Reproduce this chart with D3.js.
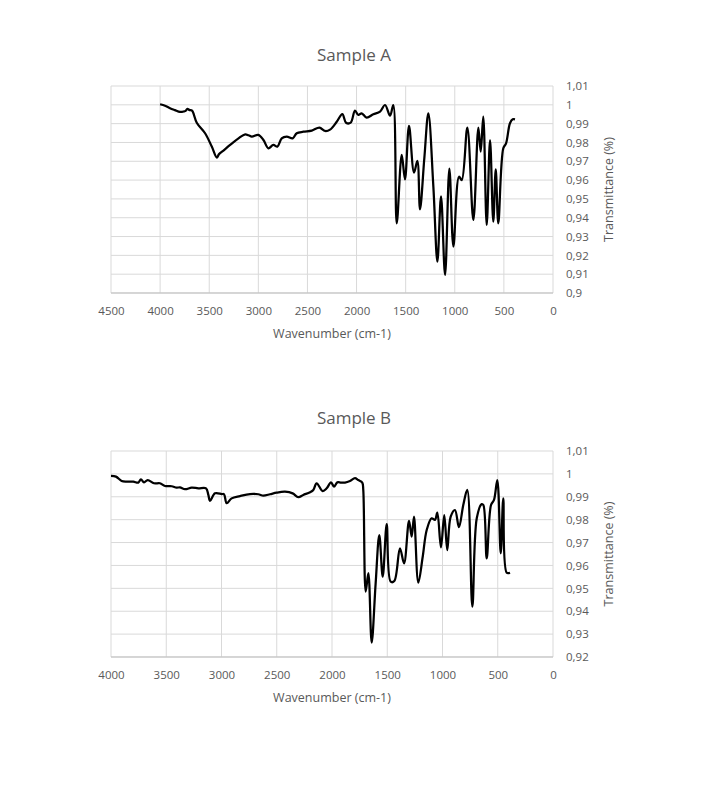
<!DOCTYPE html>
<html><head><meta charset="utf-8">
<script src="https://cdn.jsdelivr.net/npm/d3@7"></script>
<style>body{margin:0;background:#fff}svg{display:block}text{font-family:"Open Sans",sans-serif;fill:#595959}</style>
</head><body><svg id="c" width="720" height="786"></svg>
<script>
const titles = ["Sample A", "Sample B"];
const xTitle = "Wavenumber (cm-1)";
const yTitle = "Transmittance (%)";

const xTicksA = [4500,4000,3500,3000,2500,2000,1500,1000,500,0];
const yTicksA = [0.9,0.91,0.92,0.93,0.94,0.95,0.96,0.97,0.98,0.99,1,1.01];
const xTicksB = [4000,3500,3000,2500,2000,1500,1000,500,0];
const yTicksB = [0.92,0.93,0.94,0.95,0.96,0.97,0.98,0.99,1,1.01];

const wnA = [4000,3950,3899,3850,3797,3756,3740,3722,3700,3675,3627,3542,3474,3423,3400,3355,3287,3202,3134,3100,3066,3000,2948,2898,2847,2806,2762,2711,2650,2609,2541,2456,2378,2321,2270,2202,2145,2107,2060,2016,1982,1948,1897,1829,1761,1710,1659,1626,1591,1540,1507,1466,1415,1381,1354,1310,1269,1218,1177,1140,1099,1055,1014,957,929,872,811,760,736,710,675,641,608,583,557,506,478,438,410,387];
const tA = [1.0003,0.9995,0.9982,0.9972,0.9962,0.9965,0.9968,0.9978,0.9972,0.9969,0.9905,0.9849,0.9778,0.972,0.9738,0.9757,0.9787,0.9822,0.9843,0.9838,0.9831,0.984,0.9813,0.9769,0.9787,0.9778,0.9822,0.9831,0.9822,0.9849,0.9857,0.9863,0.9879,0.9861,0.9868,0.991,0.9951,0.9905,0.9905,0.9969,0.9946,0.9955,0.9932,0.995,0.9964,0.9999,0.9942,0.9999,0.937,0.9734,0.9604,0.9888,0.964,0.9702,0.9445,0.9716,0.9955,0.9565,0.9167,0.9514,0.9096,0.9661,0.9247,0.9618,0.96,0.9879,0.9388,0.9879,0.9751,0.9937,0.9362,0.9813,0.9379,0.9657,0.937,0.9769,0.9795,0.9902,0.9923,0.9923];

const wnB = [4000,3955,3904,3858,3798,3753,3729,3701,3668,3611,3557,3511,3451,3406,3376,3330,3270,3210,3140,3119,3104,3059,2998,2977,2953,2908,2833,2742,2667,2622,2561,2501,2425,2356,2305,2260,2199,2169,2139,2084,2048,2009,1982,1952,1918,1882,1837,1792,1762,1726,1717,1695,1671,1641,1605,1572,1541,1505,1469,1436,1385,1348,1303,1279,1258,1219,1179,1143,1098,1068,1047,1014,984,957,926,887,851,812,776,730,690,645,630,600,561,534,504,473,450,419,389];
const tB = [0.9991,0.9988,0.9969,0.9966,0.9966,0.9962,0.9976,0.9963,0.9973,0.9959,0.9959,0.9947,0.9946,0.994,0.9941,0.9933,0.994,0.9937,0.9937,0.9908,0.9882,0.9915,0.9912,0.9911,0.9872,0.9893,0.9903,0.9912,0.9911,0.9905,0.9911,0.9918,0.9922,0.9915,0.9898,0.9908,0.992,0.993,0.9959,0.9925,0.9937,0.9963,0.9944,0.9963,0.9962,0.9962,0.9969,0.9981,0.9973,0.9962,0.993,0.9486,0.9566,0.9263,0.9522,0.9733,0.9551,0.9781,0.9529,0.9532,0.9675,0.9609,0.9795,0.9726,0.9813,0.9525,0.9638,0.9755,0.9806,0.9799,0.9831,0.9679,0.982,0.9667,0.9813,0.9842,0.9767,0.9864,0.993,0.942,0.9806,0.9868,0.9864,0.9631,0.9864,0.9886,0.9973,0.9653,0.9893,0.9568,0.9568];

const svg = d3.select("#c");
const fmtY = v => d3.format(".2~f")(v).replace(".", ",");
const fmtX = d3.format("d");

function chart(cfg) {
  const {left,right,top,bottom,xMax,yMin,yMax,xTicks,yTicks,wn,t,title,titleY} = cfg;
  const x = d3.scaleLinear().domain([xMax,0]).range([left,right]);
  const y = d3.scaleLinear().domain([yMin,yMax]).range([bottom,top]);
  const g = svg.append("g");
  g.append("g").selectAll("line").data(yTicks).join("line")
    .attr("x1",left).attr("x2",right).attr("y1",d=>y(d)).attr("y2",d=>y(d))
    .attr("stroke","#d9d9d9").attr("stroke-width",1);
  g.append("g").selectAll("line").data(xTicks).join("line")
    .attr("y1",top).attr("y2",bottom).attr("x1",d=>x(d)).attr("x2",d=>x(d))
    .attr("stroke","#d9d9d9").attr("stroke-width",1);
  g.append("line").attr("x1",left).attr("x2",right).attr("y1",bottom).attr("y2",bottom)
    .attr("stroke","#bfbfbf").attr("stroke-width",1);
  const xa = d3.axisBottom(x).tickValues(xTicks).tickSize(0).tickPadding(0).tickFormat(fmtX);
  const xg = g.append("g").attr("transform",`translate(0,${bottom})`).call(xa);
  xg.select(".domain").remove();
  xg.selectAll("text").attr("dy",null).attr("y",22).style("font-size","11.5px").style("fill","#595959");
  const ya = d3.axisRight(y).tickValues(yTicks).tickSize(0).tickPadding(0).tickFormat(fmtY);
  const yg = g.append("g").attr("transform",`translate(${right+13},0)`).call(ya);
  yg.select(".domain").remove();
  yg.selectAll("text").style("font-size","11.5px").style("fill","#595959");
  g.append("text").attr("x",(left+right)/2 + 22).attr("y",titleY).attr("text-anchor","middle")
    .style("font-size","17px").text(title);
  g.append("text").attr("x",(left+right)/2).attr("y",bottom+45).attr("text-anchor","middle")
    .style("font-size","12.5px").text(xTitle);
  g.append("text").attr("transform",`translate(${right+60},${(top+bottom)/2}) rotate(-90)`)
    .attr("text-anchor","middle").style("font-size","12.5px").text(yTitle);
  const line = d3.line().x((d,i)=>x(wn[i])).y(d=>y(d)).curve(d3.curveCatmullRom.alpha(0.5));
  g.append("path").datum(t).attr("d",line).attr("fill","none").attr("stroke","#000")
    .attr("stroke-width",2.25).attr("stroke-linejoin","round");
}

chart({left:111,right:553,top:86,bottom:293,xMax:4500,yMin:0.9,yMax:1.01,xTicks:xTicksA,yTicks:yTicksA,wn:wnA,t:tA,title:titles[0],titleY:61});
chart({left:111,right:553,top:451,bottom:657,xMax:4000,yMin:0.92,yMax:1.01,xTicks:xTicksB,yTicks:yTicksB,wn:wnB,t:tB,title:titles[1],titleY:424});
</script></body></html>
